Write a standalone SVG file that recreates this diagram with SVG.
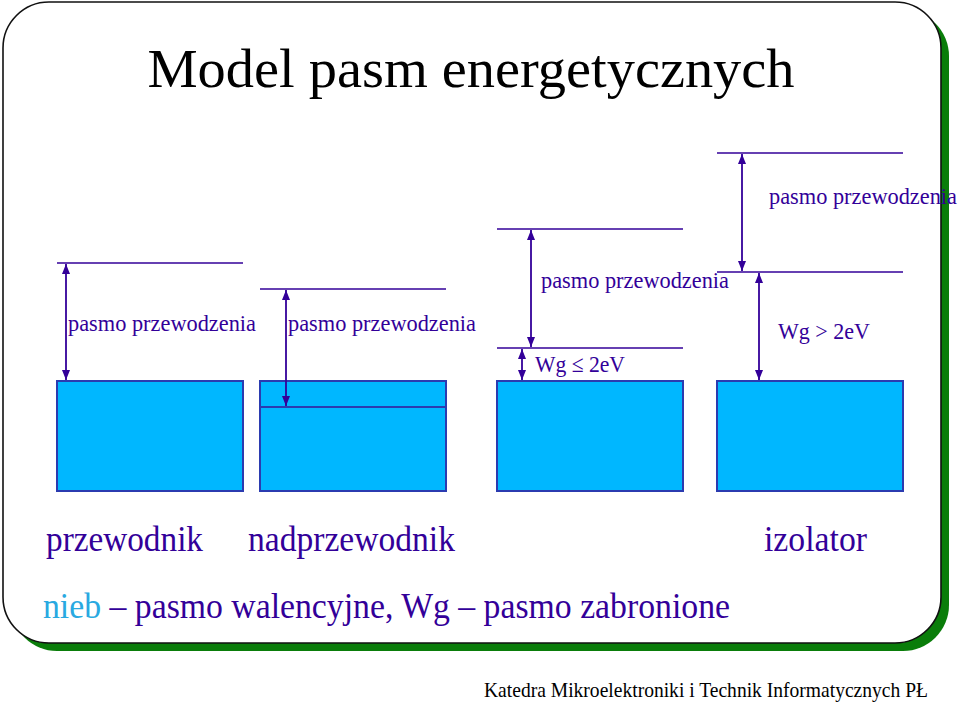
<svg xmlns="http://www.w3.org/2000/svg" width="960" height="706" viewBox="0 0 960 706">
<style>
.lbl{font-family:"Liberation Serif","Times New Roman",serif;fill:#330099}
.lvl{stroke:#330099;stroke-width:1.5;fill:none}
.arr{stroke:#330099;stroke-width:1.8;fill:none;marker-start:url(#ah);marker-end:url(#ah)}
.band{fill:#00B7FF;stroke:#2B3BB0;stroke-width:2}
</style>
<defs>
<marker id="ah" viewBox="0 0 10 8" refX="10" refY="4" markerWidth="10" markerHeight="8" markerUnits="userSpaceOnUse" orient="auto-start-reverse">
<path d="M0,0 L10,4 L0,8 z" fill="#330099"/>
</marker>
</defs>
<rect width="960" height="706" fill="#ffffff"/>
<g id="frame">
<rect x="11" y="10" width="938" height="641" rx="46" fill="#0A7D0A"/>
<rect x="3" y="2" width="938" height="641" rx="46" fill="#ffffff" stroke="#111111" stroke-width="1.6"/>
</g>
<text x="471" y="87" text-anchor="middle" font-family="Liberation Serif,Times New Roman,serif" font-size="55" fill="#000000" textLength="647" lengthAdjust="spacingAndGlyphs">Model pasm energetycznych</text>
<g id="przewodnik">
<rect class="band" x="57" y="381" width="186" height="110"/>
<line class="lvl" x1="57" y1="263" x2="243" y2="263"/>
<text class="lbl" x="68" y="331" font-size="24" textLength="188" lengthAdjust="spacingAndGlyphs">pasmo przewodzenia</text>
<text class="lbl" x="46" y="551" font-size="36" textLength="157" lengthAdjust="spacingAndGlyphs">przewodnik</text>
</g>
<g id="nadprzewodnik">
<rect class="band" x="260" y="381" width="186" height="110"/>
<line x1="260" y1="407" x2="446" y2="407" stroke="#2B3BB0" stroke-width="2"/>
<line class="lvl" x1="260" y1="289" x2="446" y2="289"/>
<text class="lbl" x="288" y="331" font-size="24" textLength="188" lengthAdjust="spacingAndGlyphs">pasmo przewodzenia</text>
<text class="lbl" x="248" y="551" font-size="36" textLength="207" lengthAdjust="spacingAndGlyphs">nadprzewodnik</text>
</g>
<g id="polprzewodnik">
<rect class="band" x="497" y="381" width="186" height="110"/>
<line class="lvl" x1="497" y1="229" x2="683" y2="229"/>
<line class="lvl" x1="497" y1="348" x2="683" y2="348"/>
<text class="lbl" x="541" y="288" font-size="24" textLength="188" lengthAdjust="spacingAndGlyphs">pasmo przewodzenia</text>
<text class="lbl" x="535" y="372" font-size="24" textLength="90" lengthAdjust="spacingAndGlyphs">Wg ≤ 2eV</text>
</g>
<g id="izolator">
<rect class="band" x="717" y="381" width="186" height="110"/>
<line class="lvl" x1="717" y1="153" x2="903" y2="153"/>
<line class="lvl" x1="717" y1="272" x2="903" y2="272"/>
<text class="lbl" x="769" y="204" font-size="24" textLength="188" lengthAdjust="spacingAndGlyphs">pasmo przewodzenia</text>
<text class="lbl" x="778" y="339" font-size="24" textLength="92" lengthAdjust="spacingAndGlyphs">Wg &gt; 2eV</text>
<text class="lbl" x="764" y="551" font-size="36" textLength="103" lengthAdjust="spacingAndGlyphs">izolator</text>
</g>
<g id="connectors">
<line class="arr" x1="66" y1="264" x2="66" y2="380"/>
<line class="arr" x1="286" y1="290" x2="286" y2="406"/>
<line class="arr" x1="531" y1="230" x2="531" y2="347"/>
<line class="arr" x1="522" y1="349" x2="522" y2="380"/>
<line class="arr" x1="742" y1="154" x2="742" y2="271"/>
<line class="arr" x1="759" y1="273" x2="759" y2="380"/>
</g>
<text class="lbl" x="43" y="618" font-size="36" textLength="687" lengthAdjust="spacingAndGlyphs"><tspan fill="#29A9E1">nieb</tspan> – pasmo walencyjne, Wg – pasmo zabronione</text>
<text x="484" y="697" font-family="Liberation Serif,Times New Roman,serif" font-size="21" fill="#000000" textLength="444" lengthAdjust="spacingAndGlyphs">Katedra Mikroelektroniki i Technik Informatycznych PŁ</text>
</svg>
